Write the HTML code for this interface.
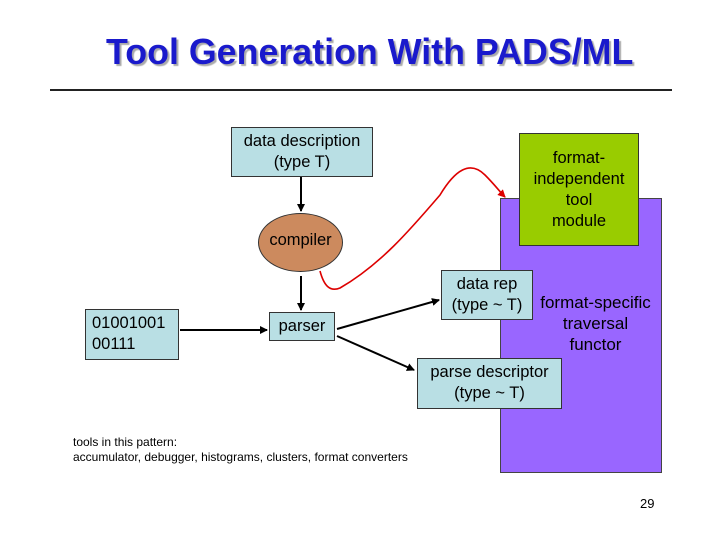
<!DOCTYPE html>
<html><head><style>
body{margin:0;width:720px;height:540px;background:#fff;position:relative;overflow:hidden;font-family:"Liberation Sans",Arial,sans-serif}
.b{position:absolute;box-sizing:border-box;border:1px solid #333;background:#b9dfe4;font-size:16.5px;color:#000;text-align:center;line-height:21px}
.t{position:absolute;font-size:16.5px;line-height:21px;text-align:center}
</style></head><body>
<div style="position:absolute;left:106px;top:32px;white-space:nowrap;font-size:35.8px;font-weight:bold;color:#1a1acc;text-shadow:2px 2px 1px #aaa">Tool Generation With PADS/ML</div>
<div style="position:absolute;left:50px;top:89px;width:622px;height:2px;background:#222"></div>
<div style="position:absolute;left:500px;top:198px;width:162px;height:275px;background:#9966ff;border:1px solid #444;box-sizing:border-box"></div>
<div class="b" style="left:519px;top:133px;width:120px;height:113px;background:#99cc00;padding-top:14px">format-<br>independent<br>tool<br>module</div>
<div class="b" style="left:231px;top:127px;width:142px;height:50px;padding-top:3px">data description<br>(type T)</div>
<div style="position:absolute;left:258px;top:213px;width:85px;height:59px;border-radius:50%;background:#cc8a5e;border:1px solid #333;box-sizing:border-box"></div>
<div class="t" style="left:253px;top:230px;width:95px">compiler</div>
<div class="b" style="left:269px;top:312px;width:66px;height:29px;padding-top:3px">parser</div>
<div class="b" style="left:85px;top:309px;width:94px;height:51px;text-align:left;padding:3px 0 0 6px">01001001<br>00111</div>
<div class="b" style="left:441px;top:270px;width:92px;height:50px;padding-top:3px">data rep<br>(type ~ T)</div>
<div class="t" style="left:527px;top:292px;width:137px;font-size:17px">format-specific<br>traversal<br>functor</div>
<div class="b" style="left:417px;top:358px;width:145px;height:51px;padding-top:3px">parse descriptor<br>(type ~ T)</div>
<div style="position:absolute;left:73px;top:435px;font-size:12px;line-height:15px;white-space:nowrap">tools in this pattern:<br>accumulator, debugger, histograms, clusters, format converters</div>
<div style="position:absolute;left:640px;top:496px;font-size:13px">29</div>
<svg width="720" height="540" style="position:absolute;left:0;top:0">
<defs><marker id="a" markerWidth="8" markerHeight="8" refX="7" refY="4" orient="auto" markerUnits="userSpaceOnUse"><path d="M0,0 L8,4 L0,8z" fill="#000"/></marker>
<marker id="r" markerWidth="8" markerHeight="8" refX="7" refY="4" orient="auto" markerUnits="userSpaceOnUse"><path d="M0,0 L8,4 L0,8z" fill="#d00"/></marker></defs>
<g stroke="#000" stroke-width="2" fill="none">
<line x1="301" y1="177" x2="301" y2="211" marker-end="url(#a)"/>
<line x1="301" y1="276" x2="301" y2="310" marker-end="url(#a)"/>
<line x1="180" y1="330" x2="267" y2="330" marker-end="url(#a)"/>
<line x1="337" y1="329" x2="439" y2="300" marker-end="url(#a)"/>
<line x1="337" y1="336" x2="414" y2="370" marker-end="url(#a)"/>
</g>
<path d="M320,271 C324,286 330,292 340,288 C380,265 410,230 440,195 C455,170 470,160 485,175 C495,185 500,192 505,197" stroke="#d00" stroke-width="1.6" fill="none" marker-end="url(#r)"/>
</svg>
</body></html>
